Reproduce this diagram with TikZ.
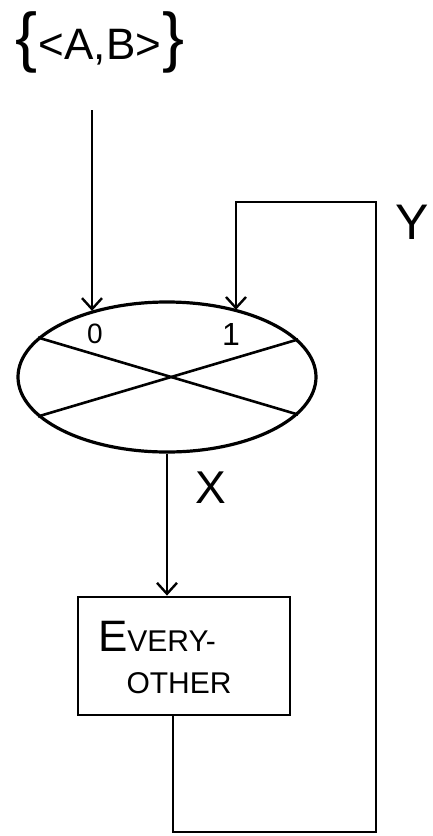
\documentclass[tikz,border=0pt]{standalone}
\usepackage{fontspec}
\setmainfont{Liberation Sans}
\usetikzlibrary{shapes.geometric,arrows.meta}
\begin{document}
\begin{tikzpicture}[x=1pt,y=-1pt,
  wire/.style={line width=2.6pt},
  arr/.style={wire,-{Straight Barb[length=11pt,width=20pt,line width=2.4pt]}},
  lbl/.style={inner sep=0pt,anchor=center},
  fnt/.style={font=\fontsize{#1}{#1}\selectfont}]
\useasboundingbox (0,0) rectangle (432,836);
% top label
\node[lbl] (inp) at (100,42) {{\fontsize{66}{66}\selectfont\{}\,{\fontsize{44}{44}\selectfont\textless A,B\textgreater}\,{\fontsize{66}{66}\selectfont\}}};
% merge ellipse
\node[ellipse,draw,line width=3.2pt,minimum width=298pt,minimum height=150pt,inner sep=0pt] (e) at (167,377) {};
\draw[wire] (e.163.8) -- (e.-16.2);
\draw[wire] (e.-163.8) -- (e.16.2);
\node[lbl,fnt=28] (p0) at (95,334) {0};
\node[lbl,fnt=32] (p1) at (231,334) {1};
% box
\node[draw,line width=2.8pt,minimum width=212pt,minimum height=118pt,inner sep=0pt] (box) at (184,656) {};
\node[lbl] (t1) at (157,636) {{\fontsize{44}{44}\selectfont E}{\fontsize{30}{30}\selectfont VERY-}};
\node[lbl,fnt=30] (t2) at (179,683) {OTHER};
% labels
\node[lbl,fnt=46] (xl) at (211,488) {X};
\node[lbl,fnt=50] (yl) at (412,222) {Y};
% coordinates
\coordinate (in0) at (92,110);
\coordinate (b1) at (173,832);
\coordinate (b2) at (376,832);
\coordinate (b3) at (376,202);
\coordinate (b4) at (236,202);
% connectors
\draw[arr] (in0) -- (in0 |- e.139.1);
\draw[arr] (e.south) -- (e.south |- box.north);
\draw[arr] (b1 |- box.south) -- (b1) -- (b2) -- (b3) -- (b4) -- (b4 |- e.43.5);
\end{tikzpicture}
\end{document}
